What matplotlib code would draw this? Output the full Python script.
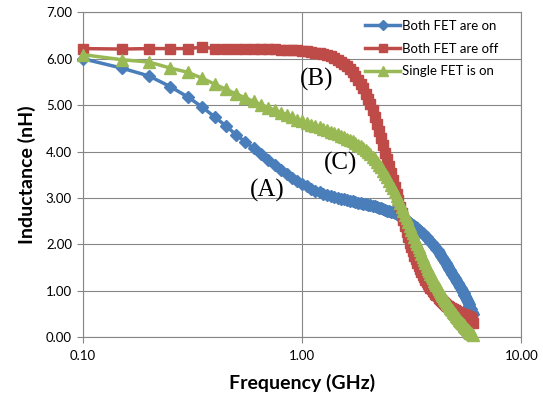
import numpy as np
import matplotlib
matplotlib.use('Agg')
import matplotlib.pyplot as plt
from matplotlib.ticker import FixedLocator, NullLocator

# sweep frequencies (GHz)
freq = [0.10, 0.15, 0.20, 0.25, 0.30, 0.35, 0.40, 0.45, 0.50, 0.55,
        0.60, 0.65, 0.70, 0.75, 0.80, 0.85, 0.90, 0.95, 1.00, 1.05,
        1.10, 1.15, 1.20, 1.25, 1.30, 1.35, 1.40, 1.45, 1.50, 1.55,
        1.60, 1.65, 1.70, 1.75, 1.80, 1.85, 1.90, 1.95, 2.00, 2.05,
        2.10, 2.15, 2.20, 2.25, 2.30, 2.35, 2.40, 2.45, 2.50, 2.55,
        2.60, 2.65, 2.70, 2.75, 2.80, 2.85, 2.90, 2.95, 3.00, 3.05,
        3.10, 3.15, 3.20, 3.25, 3.30, 3.35, 3.40, 3.45, 3.50, 3.55,
        3.60, 3.65, 3.70, 3.75, 3.80, 3.85, 3.90, 3.95, 4.00, 4.05,
        4.10, 4.15, 4.20, 4.25, 4.30, 4.35, 4.40, 4.45, 4.50, 4.55,
        4.60, 4.65, 4.70, 4.75, 4.80, 4.85, 4.90, 4.95, 5.00, 5.05,
        5.10, 5.15, 5.20, 5.25, 5.30, 5.35, 5.40, 5.45, 5.50, 5.55,
        5.60, 5.65, 5.70, 5.75, 5.80, 5.85, 5.90, 5.95, 6.00]

# inductance (nH)
both_on = [6.00, 5.80, 5.63, 5.40, 5.18, 4.96, 4.74, 4.55, 4.36, 4.21,
           4.07, 3.94, 3.82, 3.71, 3.61, 3.52, 3.44, 3.37, 3.30, 3.25,
           3.20, 3.16, 3.12, 3.09, 3.06, 3.04, 3.02, 3.00, 2.98, 2.97,
           2.96, 2.94, 2.93, 2.92, 2.90, 2.89, 2.88, 2.87, 2.85, 2.84,
           2.83, 2.82, 2.80, 2.79, 2.78, 2.76, 2.75, 2.73, 2.72, 2.70,
           2.69, 2.67, 2.65, 2.63, 2.61, 2.59, 2.57, 2.55, 2.52, 2.50,
           2.47, 2.45, 2.42, 2.40, 2.37, 2.35, 2.32, 2.29, 2.27, 2.24,
           2.21, 2.18, 2.15, 2.12, 2.09, 2.06, 2.03, 2.00, 1.97, 1.94,
           1.90, 1.87, 1.83, 1.80, 1.76, 1.73, 1.69, 1.66, 1.62, 1.59,
           1.55, 1.51, 1.48, 1.44, 1.41, 1.37, 1.34, 1.30, 1.27, 1.23,
           1.19, 1.16, 1.12, 1.09, 1.05, 1.02, 0.98, 0.95, 0.91, 0.88,
           0.84, 0.80, 0.76, 0.72, 0.68, 0.64, 0.60, 0.55, 0.50]

both_off = [6.22, 6.21, 6.22, 6.22, 6.22, 6.25, 6.22, 6.22, 6.22, 6.22,
            6.22, 6.21, 6.21, 6.21, 6.20, 6.20, 6.19, 6.18, 6.17, 6.16,
            6.15, 6.13, 6.12, 6.10, 6.08, 6.05, 6.02, 5.98, 5.94, 5.89,
            5.84, 5.78, 5.71, 5.63, 5.55, 5.46, 5.36, 5.25, 5.14, 5.02,
            4.89, 4.75, 4.60, 4.45, 4.30, 4.14, 3.98, 3.83, 3.68, 3.53,
            3.38, 3.23, 3.09, 2.95, 2.81, 2.67, 2.53, 2.40, 2.27, 2.15,
            2.04, 1.94, 1.85, 1.76, 1.68, 1.60, 1.53, 1.46, 1.40, 1.34,
            1.29, 1.24, 1.19, 1.15, 1.11, 1.07, 1.03, 1.00, 0.97, 0.94,
            0.91, 0.88, 0.85, 0.83, 0.80, 0.78, 0.76, 0.74, 0.72, 0.70,
            0.68, 0.67, 0.65, 0.64, 0.62, 0.61, 0.60, 0.59, 0.58, 0.56,
            0.55, 0.54, 0.53, 0.52, 0.51, 0.50, 0.49, 0.48, 0.47, 0.47,
            0.46, 0.45, 0.45, 0.44, 0.44, 0.43, 0.42, 0.38, 0.30]

single_on = [6.09, 5.98, 5.93, 5.80, 5.71, 5.58, 5.45, 5.34, 5.24, 5.16,
             5.08, 5.01, 4.95, 4.89, 4.84, 4.79, 4.74, 4.69, 4.65, 4.61,
             4.58, 4.55, 4.52, 4.49, 4.46, 4.43, 4.40, 4.37, 4.34, 4.31,
             4.28, 4.25, 4.22, 4.18, 4.15, 4.11, 4.07, 4.03, 3.99, 3.94,
             3.89, 3.84, 3.78, 3.72, 3.66, 3.59, 3.52, 3.45, 3.37, 3.29,
             3.21, 3.13, 3.05, 2.97, 2.89, 2.80, 2.72, 2.64, 2.56, 2.48,
             2.40, 2.32, 2.24, 2.16, 2.08, 2.01, 1.94, 1.87, 1.80, 1.73,
             1.66, 1.60, 1.54, 1.48, 1.42, 1.37, 1.32, 1.27, 1.22, 1.17,
             1.13, 1.08, 1.04, 1.00, 0.96, 0.92, 0.88, 0.84, 0.81, 0.77,
             0.74, 0.71, 0.67, 0.64, 0.61, 0.58, 0.55, 0.52, 0.49, 0.46,
             0.43, 0.41, 0.38, 0.35, 0.33, 0.30, 0.28, 0.26, 0.24, 0.22,
             0.20, 0.18, 0.16, 0.14, 0.12, 0.10, 0.08, 0.06, 0.04]

labels = ['Both FET are on', 'Both FET are off', 'Single FET is on']
x_ticks = [0.1, 1, 10]
x_ticklabels = ['0.10', '1.00', '10.00']
y_ticks = [0, 1, 2, 3, 4, 5, 6, 7]

plt.rcParams['font.family'] = ['Lato', 'DejaVu Sans']

fig = plt.figure(figsize=(5.43, 4.0), dpi=100)
ax = fig.add_axes([0.153, 0.157, 0.807, 0.812])

grid_c = '#868686'
ax.plot(freq, both_on, color='#4a7ebb', lw=2.5, marker='D', ms=6,
        label=labels[0], clip_on=False, zorder=3)
ax.plot(freq, both_off, color='#be4b48', lw=2.5, marker='s', ms=7.5,
        label=labels[1], clip_on=False, zorder=4)
ax.plot(freq, single_on, color='#98b954', lw=2.5, marker='^', ms=8.5,
        label=labels[2], clip_on=False, zorder=5)

ax.set_xscale('log')
ax.set_xlim(0.1, 10)
ax.set_ylim(0, 7)
ax.xaxis.set_major_locator(FixedLocator(x_ticks))
ax.xaxis.set_minor_locator(NullLocator())
ax.set_xticklabels(x_ticklabels)
ax.set_yticks(y_ticks)
ax.set_yticklabels(['%.2f' % v for v in y_ticks])
ax.tick_params(axis='both', labelsize=9.5, colors=grid_c, labelcolor='black',
               length=4, width=0.8)
ax.tick_params(axis='x', pad=5)
ax.tick_params(axis='y', pad=4)

ax.grid(True, color=grid_c, lw=0.8)
ax.set_axisbelow(True)
for s in ax.spines.values():
    s.set_color(grid_c)
    s.set_linewidth(0.8)

ax.set_xlabel('Frequency (GHz)', fontsize=14, fontweight='bold', labelpad=9)
ax.set_ylabel('Inductance (nH)', fontsize=14, fontweight='bold', labelpad=7)

# curve labels
ax.text(0.695, 3.17, '(A)', fontsize=18, family='Liberation Serif',
        ha='center', va='center')
ax.text(1.158, 5.55, '(B)', fontsize=18, family='Liberation Serif',
        ha='center', va='center')
ax.text(1.495, 3.74, '(C)', fontsize=18, family='Liberation Serif',
        ha='center', va='center')

ax.legend(loc='upper left', bbox_to_anchor=(0.656, 0.973),
          bbox_transform=fig.transFigure, frameon=False, fontsize=9.5,
          handlelength=2.6, handletextpad=0.15, labelspacing=0.8,
          borderpad=0.2, numpoints=1, markerscale=0.8)

fig.savefig('out.png', dpi=100)
